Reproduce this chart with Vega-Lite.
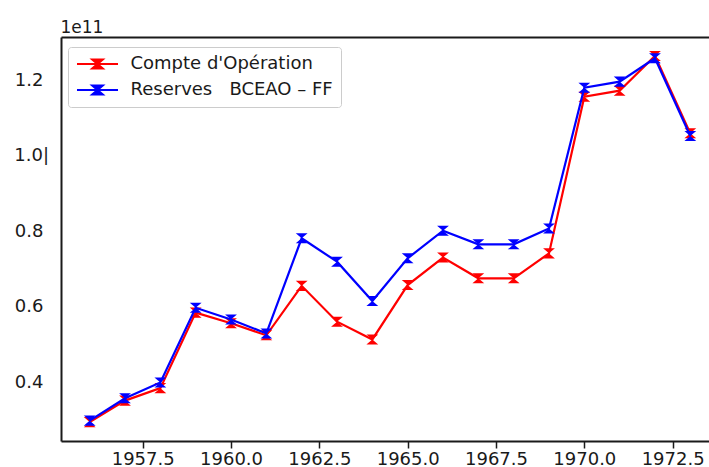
{
  "$schema": "https://vega.github.io/schema/vega-lite/v6.json",
  "autosize": "none",
  "width": 648,
  "height": 404,
  "padding": {"left": 61, "top": 37, "right": 0, "bottom": 26},
  "background": "white",
  "config": {"view": {"stroke": null}, "font": "DejaVu Sans"},
  "data": {
    "values": [
      {"year": 1956, "id": "C", "series": "Compte d'Opération", "value": 29500000000},
      {"year": 1957, "id": "C", "series": "Compte d'Opération", "value": 35200000000},
      {"year": 1958, "id": "C", "series": "Compte d'Opération", "value": 38500000000},
      {"year": 1959, "id": "C", "series": "Compte d'Opération", "value": 58500000000},
      {"year": 1960, "id": "C", "series": "Compte d'Opération", "value": 55700000000},
      {"year": 1961, "id": "C", "series": "Compte d'Opération", "value": 52500000000},
      {"year": 1962, "id": "C", "series": "Compte d'Opération", "value": 65600000000},
      {"year": 1963, "id": "C", "series": "Compte d'Opération", "value": 56100000000},
      {"year": 1964, "id": "C", "series": "Compte d'Opération", "value": 51400000000},
      {"year": 1965, "id": "C", "series": "Compte d'Opération", "value": 65800000000},
      {"year": 1966, "id": "C", "series": "Compte d'Opération", "value": 73100000000},
      {"year": 1967, "id": "C", "series": "Compte d'Opération", "value": 67600000000},
      {"year": 1968, "id": "C", "series": "Compte d'Opération", "value": 67600000000},
      {"year": 1969, "id": "C", "series": "Compte d'Opération", "value": 74200000000},
      {"year": 1970, "id": "C", "series": "Compte d'Opération", "value": 115700000000},
      {"year": 1971, "id": "C", "series": "Compte d'Opération", "value": 117300000000},
      {"year": 1972, "id": "C", "series": "Compte d'Opération", "value": 126500000000},
      {"year": 1973, "id": "C", "series": "Compte d'Opération", "value": 106000000000},
      {"year": 1956, "id": "R", "series": "Reserves\u00a0\u00a0\u00a0BCEAO – FF", "value": 29900000000},
      {"year": 1957, "id": "R", "series": "Reserves\u00a0\u00a0\u00a0BCEAO – FF", "value": 35800000000},
      {"year": 1958, "id": "R", "series": "Reserves\u00a0\u00a0\u00a0BCEAO – FF", "value": 40000000000},
      {"year": 1959, "id": "R", "series": "Reserves\u00a0\u00a0\u00a0BCEAO – FF", "value": 59800000000},
      {"year": 1960, "id": "R", "series": "Reserves\u00a0\u00a0\u00a0BCEAO – FF", "value": 56700000000},
      {"year": 1961, "id": "R", "series": "Reserves\u00a0\u00a0\u00a0BCEAO – FF", "value": 53000000000},
      {"year": 1962, "id": "R", "series": "Reserves\u00a0\u00a0\u00a0BCEAO – FF", "value": 78200000000},
      {"year": 1963, "id": "R", "series": "Reserves\u00a0\u00a0\u00a0BCEAO – FF", "value": 72000000000},
      {"year": 1964, "id": "R", "series": "Reserves\u00a0\u00a0\u00a0BCEAO – FF", "value": 61600000000},
      {"year": 1965, "id": "R", "series": "Reserves\u00a0\u00a0\u00a0BCEAO – FF", "value": 72900000000},
      {"year": 1966, "id": "R", "series": "Reserves\u00a0\u00a0\u00a0BCEAO – FF", "value": 80200000000},
      {"year": 1967, "id": "R", "series": "Reserves\u00a0\u00a0\u00a0BCEAO – FF", "value": 76600000000},
      {"year": 1968, "id": "R", "series": "Reserves\u00a0\u00a0\u00a0BCEAO – FF", "value": 76600000000},
      {"year": 1969, "id": "R", "series": "Reserves\u00a0\u00a0\u00a0BCEAO – FF", "value": 80800000000},
      {"year": 1970, "id": "R", "series": "Reserves\u00a0\u00a0\u00a0BCEAO – FF", "value": 118100000000},
      {"year": 1971, "id": "R", "series": "Reserves\u00a0\u00a0\u00a0BCEAO – FF", "value": 119700000000},
      {"year": 1972, "id": "R", "series": "Reserves\u00a0\u00a0\u00a0BCEAO – FF", "value": 125900000000},
      {"year": 1973, "id": "R", "series": "Reserves\u00a0\u00a0\u00a0BCEAO – FF", "value": 105300000000}
    ]
  },
  "resolve": {"axis": {"x": "independent"}},
  "layer": [
    {
      "encoding": {
        "x": {
          "field": "year", "type": "quantitative",
          "scale": {"domain": [1955.188, 1973.529], "nice": false, "zero": false},
          "axis": {
            "values": [1957.5, 1960, 1962.5, 1965, 1967.5, 1970, 1972.5],
            "format": ".1f", "title": null, "grid": false,
            "labelFontSize": 18, "labelColor": "#1a1a1a", "labelPadding": 2,
            "tickSize": 7, "tickWidth": 1.5, "tickColor": "#1a1a1a",
            "domainColor": "#1a1a1a", "domainWidth": 2, "labelFlush": false
          }
        },
        "y": {
          "field": "value", "type": "quantitative",
          "scale": {"domain": [24500000000, 131520000000], "nice": false, "zero": false},
          "axis": {
            "values": [40000000000, 60000000000, 80000000000, 100000000000, 120000000000],
            "labelExpr": "datum.value == 100000000000 ? '1.0|' : format(datum.value / 100000000000, '.1f')",
            "ticks": false, "grid": false,
            "labelPadding": {"condition": {"test": "datum.value == 100000000000", "value": 12.5}, "value": 18},
            "labelFontSize": 18, "labelColor": "#1a1a1a", "labelFlush": false,
            "domainColor": "#1a1a1a", "domainWidth": 2,
            "title": "1e11", "titleAngle": 0, "titleAlign": "left", "titleBaseline": "alphabetic",
            "titleX": -1, "titleY": -5, "titleFontSize": 17, "titleFontWeight": "normal", "titleColor": "#1a1a1a"
          }
        },
        "color": {
          "field": "series", "type": "nominal",
          "scale": {"domain": ["Compte d'Opération", "Reserves\u00a0\u00a0\u00a0BCEAO – FF"], "range": ["#ff0000", "#0000ff"]},
          "legend": {
            "title": null, "orient": "none", "legendX": 7, "legendY": 10,
            "direction": "vertical",
            "fillColor": "white", "strokeColor": "#cccccc", "cornerRadius": 3, "padding": 8,
            "symbolType": "M-2.93,0L2.93,0M-0.76,-0.64L0.76,-0.64L-0.76,0.64L0.76,0.64Z",
            "symbolSize": 196, "symbolStrokeWidth": 2, "symbolOffset": 12.5,
            "labelFontSize": 18, "labelColor": "#1a1a1a", "labelOffset": 24, "rowPadding": 8,
            "labelLimit": 400,
            "encode": {"symbols": {"update": {"fill": {"scale": "color", "field": "value"}, "stroke": {"scale": "color", "field": "value"}, "fillOpacity": {"value": 1}}}}
          }
        }
      },
      "layer": [
        {"transform": [{"filter": {"field": "id", "equal": "C"}}], "mark": {"type": "line", "strokeWidth": 2.2}},
        {"transform": [{"filter": {"field": "id", "equal": "C"}}], "mark": {"type": "point", "shape": "M-1,-0.85L1,-0.85L-1,0.85L1,0.85Z", "filled": true, "size": 140, "opacity": 1, "strokeWidth": 1}},
        {"transform": [{"filter": {"field": "id", "equal": "R"}}], "mark": {"type": "line", "strokeWidth": 2.2}},
        {"transform": [{"filter": {"field": "id", "equal": "R"}}], "mark": {"type": "point", "shape": "M-1,-0.85L1,-0.85L-1,0.85L1,0.85Z", "filled": true, "size": 140, "opacity": 1, "strokeWidth": 1}}
      ]
    },
    {
      "mark": {"type": "point", "opacity": 0},
      "encoding": {
        "x": {
          "field": "year", "type": "quantitative",
          "scale": {"domain": [1955.188, 1973.529], "nice": false, "zero": false},
          "axis": {"orient": "top", "labels": false, "ticks": false, "grid": false, "title": null, "domainColor": "#1a1a1a", "domainWidth": 2}
        },
        "y": {"field": "value", "type": "quantitative"}
      }
    }
  ]
}
